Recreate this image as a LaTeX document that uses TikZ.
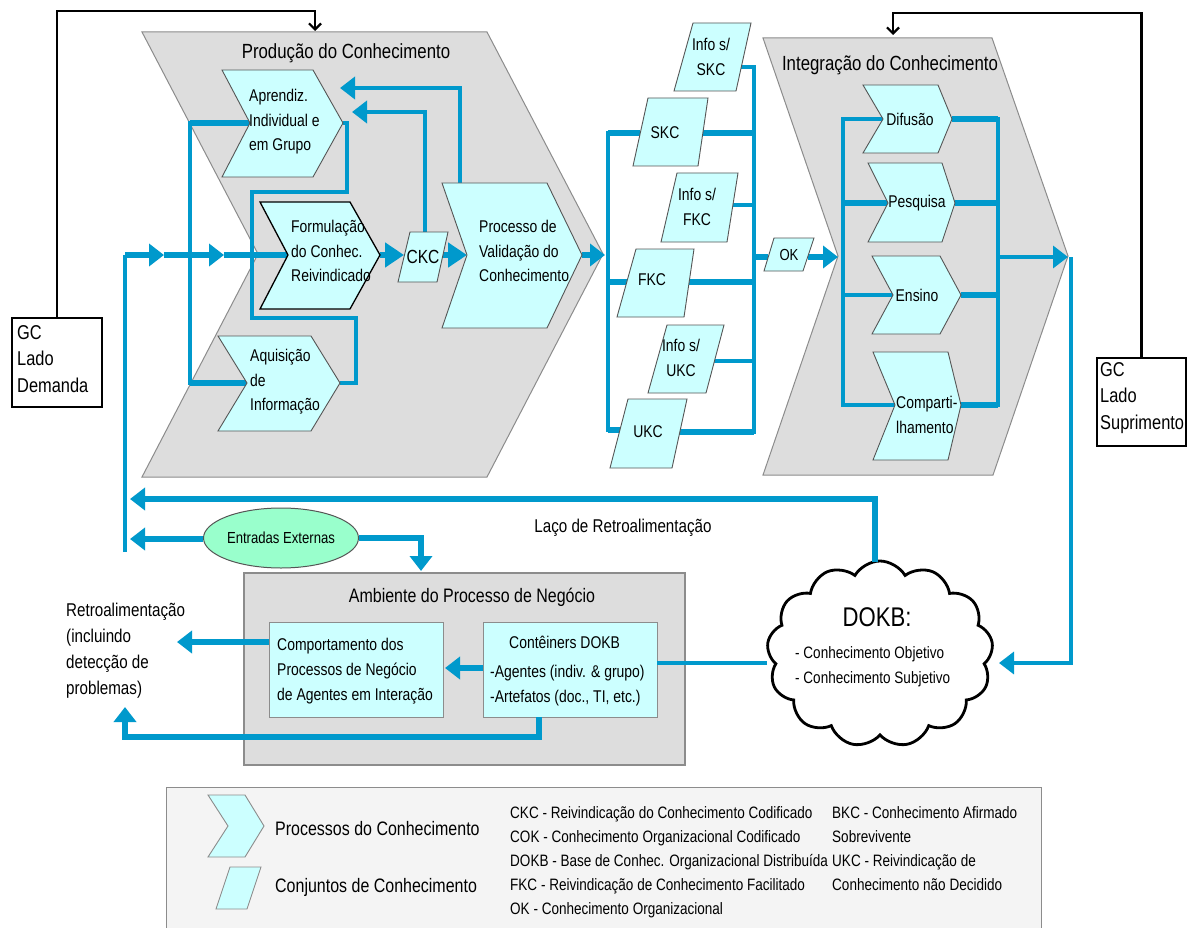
\documentclass[tikz,border=0pt]{standalone}
\usepackage{fontspec}
\setmainfont{Liberation Sans}[FakeStretch=0.82]
\usetikzlibrary{arrows.meta,shapes.geometric,shapes.symbols}

\definecolor{flowblue}{RGB}{0,153,204}
\definecolor{cyanfill}{RGB}{204,255,255}
\definecolor{panelgray}{RGB}{221,221,221}
\definecolor{panelline}{RGB}{140,140,140}
\definecolor{shapeline}{RGB}{85,85,85}
\definecolor{mintfill}{RGB}{153,255,204}
\definecolor{legendfill}{RGB}{244,244,244}

\newcommand\fsz[2]{\fontsize{#1pt}{#2pt}\selectfont}

% chevron: style, name, left x, right x, top y, bottom y, notch x, tip x, mid y
\newcommand\chevron[9]{%
  \draw[#1] (#3,#5) -- (#4,#5) -- (#8,#9) -- (#4,#6) -- (#3,#6) -- (#7,#9) -- cycle;
  \coordinate (#2-in) at (#7,#9);
  \coordinate (#2-out) at (#8,#9);
}
% knowledge set: name, top-left x, top-right x, bottom-right x, bottom-left x, top y, bottom y
\newcommand\kset[7]{%
  \draw[kstyle] (#2,#6) -- (#3,#6) -- (#4,#7) -- (#5,#7) -- cycle;
  \coordinate (#1) at ({(#2+#3+#4+#5)/4},{(#6+#7)/2});
}

\tikzset{
  panel/.style={fill=panelgray, draw=panelline, line width=1pt},
  pstyle/.style={fill=cyanfill, draw=shapeline, line width=0.9pt},
  pdark/.style={fill=cyanfill, draw=black, line width=1.3pt},
  kstyle/.style={fill=cyanfill, draw=shapeline, line width=0.9pt},
  flow/.style={draw=flowblue, line width=5.5pt},
  flowmid/.style={draw=flowblue, line width=4.5pt},
  flowthin/.style={draw=flowblue, line width=3.5pt},
  bus/.style={draw=flowblue, line width=4.5pt, line cap=rect},
  tip/.style={-{Triangle[length=15pt,width=22pt]}},
  bigtip/.style={-{Triangle[length=19pt,width=24pt]}},
  ctrl/.style={draw=black, line width=2.2pt, -{Straight Barb[length=6pt,width=12pt]}},
  lbl/.style={inner sep=0pt, align=left, font=\fsz{17}{24.5}},
  clbl/.style={inner sep=0pt, align=center, font=\fsz{17}{25}},
  ptitle/.style={inner sep=0pt, font=\fsz{20.5}{24}},
  gcbox/.style={draw=black, line width=1.2pt, fill=white},
  gctext/.style={inner sep=0pt, align=left, font=\fsz{20}{26.5}},
  infobox/.style={fill=cyanfill, draw=panelline, line width=1pt, minimum width=174pt, minimum height=95pt},
}

\begin{document}
\begin{tikzpicture}[x=1pt,y=-1pt]
\useasboundingbox (0,0) rectangle (1188,928);
\fill[white] (0,0) rectangle (1188,928);

% ---------- legend frame (continues past the lower edge)
\draw[fill=legendfill, draw=panelline, line width=1pt] (166,787) rectangle (1041,945);

% ---------- large process panels
\draw[panel] (142,32) -- (487,32) -- (603,254) -- (487,477) -- (142,477) -- (258,254) -- cycle;
\draw[panel] (763,38) -- (992,38) -- (1068,256) -- (993,475) -- (763,475) -- (838,256) -- cycle;
\node[ptitle] (prodT) at (346,53) {Produção do Conhecimento};
\node[ptitle] (intT) at (890,65) {Integração do Conhecimento};

% ---------- business environment
\node[fill=panelgray, draw=panelline, line width=1.2pt, minimum width=441pt, minimum height=192pt] (amb) at (464.5,669) {};
\node[inner sep=0pt, font=\fsz{19.5}{24}] (ambT) at (472,597) {Ambiente do Processo de Negócio};
\node[infobox] (comp) at (356,669.5) {};
\node[infobox] (cont) at (570,669.5) {};
\node[lbl, anchor=west, font=\fsz{17}{25}] (compL) at (277,671)
  {Comportamento dos\\Processos de Negócio\\de Agentes em Interação};
\node[lbl, anchor=west, font=\fsz{17}{25}] (contL) at (490,671)
  {\hspace*{19pt}Contêiners DOKB\\[4pt]-Agentes (indiv. \& grupo)\\-Artefatos (doc., TI, etc.)};

% ---------- side boxes, external inputs, knowledge base
\node[gcbox, minimum width=90pt, minimum height=89pt] (gcdem) at (57,362.5) {};
\node[gctext, anchor=west] (gcdemL) at (17,359) {GC\\Lado\\Demanda};
\node[gcbox, minimum width=89pt, minimum height=88pt] (gcsup) at (1141.5,402) {};
\node[gctext, anchor=west] (gcsupL) at (1100,398) {GC\\Lado\\Suprimento};
\node[ellipse, draw=shapeline, line width=1pt, fill=mintfill, minimum width=155pt, minimum height=60pt,
      inner sep=0pt, font=\fsz{16}{20}] (ent) at (281,538) {Entradas Externas};
\node[cloud, cloud puffs=13, cloud puff arc=120, draw=black, line width=2.8pt, fill=white,
      minimum width=226pt, minimum height=186pt] (dokb) at (880,654) {};

% ---------- attachment points
\coordinate (feedTop) at (125,255);
\coordinate (feedBot) at (125,552);
\coordinate (feedA1) at (164,255);
\coordinate (feedA2) at (224,255);
\coordinate (aprRet1) at (340,88);
\coordinate (aprRet2) at (352,112);
\coordinate (ckcW) at (404,255);
\coordinate (ckcE) at (443,255);
\coordinate (ckcN) at (425,236);
\coordinate (valN) at (460,186);
\coordinate (valArr) at (605,255);

\coordinate (busLt) at (608,133);
\coordinate (busLb) at (608,430);
\coordinate (skcW) at (640,133);
\coordinate (fkcW) at (627,282);
\coordinate (ukcW) at (620,430);
\coordinate (busRt) at (754,67);
\coordinate (busRm) at (754,257);
\coordinate (busRb) at (754,432);
\coordinate (iskcE) at (741,67);
\coordinate (skcE) at (703,133);
\coordinate (ifkcE) at (733,205);
\coordinate (fkcE) at (689,282);
\coordinate (iukcE) at (714,361);
\coordinate (ukcE) at (679,432);
\coordinate (okW) at (768,257);
\coordinate (okE) at (808,257);
\coordinate (intArr) at (838,257);

\coordinate (ibusLt) at (843,119);
\coordinate (ibusLb) at (843,405);
\coordinate (ibusRt) at (998,119);
\coordinate (ibusRm) at (998,257);
\coordinate (ibusRb) at (998,405);
\coordinate (intTip) at (1068,257);
\coordinate (rvTop) at (1071,257);
\coordinate (dokbE) at (999,663);
\coordinate (dokbN) at (875,562);
\coordinate (dokbW) at (767,663);

\coordinate (fbEnd) at (130,499);
\coordinate (entEnd) at (130,539);
\coordinate (ambIn) at (421,571);
\coordinate (contW) at (483,668);
\coordinate (compE) at (445,668);
\coordinate (compW) at (269,642);
\coordinate (retroEnd) at (177,642);
\coordinate (contS) at (539,717);
\coordinate (retroUp) at (125,707);
\coordinate (contE) at (657,663);

\coordinate (prodTop) at (315,31);
\coordinate (intTop) at (893,35);

% ---------- management control lines
\draw[ctrl] (gcdem.north) -- (57,11) -- (315,11) -- (prodTop);
\draw[ctrl] (gcsup.north) -- (1141.5,13) -- (893,13) -- (intTop);

% ---------- flows in the production panel
\draw[flowthin] (feedBot) -- (feedTop);
\draw[flow, tip] (feedTop) -- (feedA1);
\draw[flow, tip] (feedA1) -- (feedA2);
\draw[flow] (feedA2) -- (288,255);
\draw[flowmid] (250,123) -- (190,123) -- (190,383) -- (247,383);
\draw[flow] (250,123) -- (190,123);
\draw[flow] (247,383) -- (190,383);
\draw[flowmid] (343,123) -- (347,123) -- (347,192) -- (252,192) -- (252,318) -- (356,318) -- (356,383) -- (340,383);
\draw[flow, bigtip] (380,255) -- (ckcW);
\draw[flow, bigtip] (ckcE) -- (467,255);
\draw[flowmid, tip] (ckcN) |- (aprRet2);
\draw[flowmid, tip] (valN) |- (aprRet1);
\draw[flow, tip] (582,255) -- (valArr);

% ---------- knowledge set branching
\draw[bus] (busLt) -- (busLb);
\draw[bus] (busRt) -- (busRb);
\draw[flow] (busLt) -- (skcW);
\draw[flow] (608,282) -- (fkcW);
\draw[flow] (busLb) -- (ukcW);
\draw[flowthin] (iskcE) -- (busRt);
\draw[flow] (skcE) -- (754,133);
\draw[flowthin] (ifkcE) -- (754,205);
\draw[flow] (fkcE) -- (754,282);
\draw[flowthin] (iukcE) -- (754,361);
\draw[flow] (ukcE) -- (busRb);
\draw[flow] (busRm) -- (okW);
\draw[flow, tip] (okE) -- (intArr);

% ---------- flows in the integration panel
\draw[bus] (ibusLt) -- (ibusLb);
\draw[bus] (ibusRt) -- (ibusRb);
\draw[flowmid] (ibusLt) -- (883,119);
\draw[flow] (843,203) -- (888,203);
\draw[flowmid] (843,295) -- (893,295);
\draw[flowmid] (ibusLb) -- (895,405);
\draw[flow] (952,119) -- (ibusRt);
\draw[flow] (955,203) -- (998,203);
\draw[flow] (961,295) -- (998,295);
\draw[flow] (961,405) -- (ibusRb);
\draw[flowthin, tip] (ibusRm) -- (intTip);
\draw[flowthin, tip] (rvTop) |- (dokbE);

% ---------- feedback and business environment flows
\draw[flow, tip] (dokbN) |- (fbEnd);
\draw[flow, tip] (ent.west |- entEnd) -- (entEnd);
\draw[flow, tip] (ent.east) -| (ambIn);
\draw[flow, tip] (contW) -- (compE);
\draw[flow, tip] (compW) -- (retroEnd);
\draw[flow, tip] (contS) -- (539,737) -| (retroUp);
\draw[flowmid] (dokbW) -- (contE);

% ---------- process chevrons
\chevron{pstyle}{apr}{222}{313}{70}{177}{250}{343}{123}
\chevron{pdark}{frm}{260}{350}{202}{309}{288}{380}{255}
\chevron{pstyle}{val}{442}{547}{183}{328}{467}{582}{255}
\chevron{pstyle}{aqu}{218}{311}{336}{431}{247}{340}{383}
\chevron{pstyle}{dif}{863}{938}{85}{153}{883}{952}{119}
\chevron{pstyle}{pes}{868}{942}{163}{242}{888}{955}{203}
\chevron{pstyle}{ens}{872}{940}{256}{334}{893}{961}{295}
\chevron{pstyle}{cmp}{873}{948}{352}{460}{895}{961}{405}

% ---------- knowledge sets
\kset{iskc}{693}{751}{736}{674}{23}{91}
\kset{skc}{648}{708}{698}{633}{98}{166}
\kset{ifkc}{677}{738}{727}{661}{173}{242}
\kset{fkc}{636}{694}{684}{617}{249}{317}
\kset{iukc}{667}{724}{706}{648}{325}{393}
\kset{ukc}{628}{687}{672}{610}{399}{468}
\kset{ckc}{410}{448}{437}{398}{232}{282}
\kset{ok}{774}{814}{803}{764}{238}{271}

% ---------- labels
\node[lbl, anchor=west] (aprL) at (249,122) {Aprendiz.\\Individual e\\em Grupo};
\node[lbl, anchor=west] (frmL) at (291,251) {Formulação\\do Conhec.\\Reivindicado};
\node[lbl, anchor=west] (valL) at (479,251) {Processo de\\Validação do\\Conhecimento};
\node[lbl, anchor=west] (aquL) at (250,382) {Aquisição\\de\\Informação};
\node[clbl] (difL) at (910,119) {Difusão};
\node[clbl] (pesL) at (917,203) {Pesquisa};
\node[clbl] (ensL) at (917,295) {Ensino};
\node[lbl, anchor=west, font=\fsz{17}{25}] (cmpL) at (896,415) {Comparti-\\lhamento};

\node[clbl] (iskcL) at (711,57) {Info s/\\SKC};
\node[clbl] (skcL) at (665,133) {SKC};
\node[clbl] (ifkcL) at (697,207) {Info s/\\FKC};
\node[clbl] (fkcL) at (652,280) {FKC};
\node[clbl] (iukcL) at (681,358) {Info s/\\UKC};
\node[clbl] (ukcL) at (648,432) {UKC};
\node[clbl, font=\fsz{19}{22}] (ckcL) at (423,257) {CKC};
\node[clbl, font=\fsz{16}{20}] (okL) at (789,255) {OK};

\node[inner sep=0pt, font=\fsz{18.5}{22}] (laco) at (623,528) {Laço de Retroalimentação};
\node[lbl, anchor=west, font=\fsz{18.5}{26}] (retro) at (66,651)
  {Retroalimentação\\(incluindo\\detecção de\\problemas)};
\node[inner sep=0pt, font=\fsz{27}{30}] (dokbT) at (877,617) {DOKB:};
\node[lbl, anchor=west, font=\fsz{16.5}{25}] (dokbL) at (795,667)
  {- Conhecimento Objetivo\\- Conhecimento Subjetivo};

% ---------- legend
\draw[pstyle, draw=panelline] (208,795) -- (245,795) -- (264,826) -- (245,857) -- (208,857) -- (228,826) -- cycle;
\draw[kstyle, draw=panelline] (230,867) -- (261,867) -- (247,909) -- (216,909) -- cycle;
\node[inner sep=0pt, anchor=west, font=\fsz{19.5}{24}] (legP) at (275,829) {Processos do Conhecimento};
\node[inner sep=0pt, anchor=west, font=\fsz{19.5}{24}] (legK) at (275,887) {Conjuntos de Conhecimento};
\node[inner sep=0pt, anchor=north west, align=left, font=\fsz{16.5}{24.2}] (legA) at (510,806)
  {CKC - Reivindicação do Conhecimento Codificado\\
   COK - Conhecimento Organizacional Codificado\\
   DOKB - Base de Conhec. Organizacional Distribuída\\
   FKC - Reivindicação de Conhecimento Facilitado\\
   OK - Conhecimento Organizacional};
\node[inner sep=0pt, anchor=north west, align=left, font=\fsz{16.5}{24.2}] (legB) at (832,806)
  {BKC - Conhecimento Afirmado\\
   Sobrevivente\\
   UKC - Reivindicação de\\
   Conhecimento não Decidido};
\end{tikzpicture}
\end{document}
